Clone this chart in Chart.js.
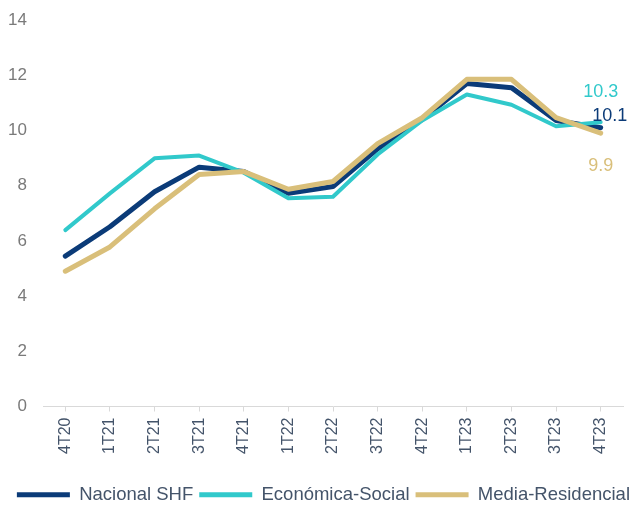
<!DOCTYPE html>
<html lang="es">
<head>
  <meta charset="UTF-8" />
  <title>Índice SHF por segmento</title>
  <script src="https://cdn.jsdelivr.net/npm/chart.js"></script>
  <style>
    * { margin: 0; padding: 0; box-sizing: border-box; }
    body { background: #fff; width: 632px; height: 506px; overflow: hidden; }
    .wrap { position: relative; width: 636px; height: 514px; }
  </style>
</head>
<body>
  <div class="wrap"><canvas id="chart"></canvas></div>

  <script>
    // trimestres
    const quarters = ['4T20', '1T21', '2T21', '3T21', '4T21', '1T22', '2T22', '3T22', '4T22', '1T23', '2T23', '3T23', '4T23'];

    // valores
    const nacional = [5.45, 6.51, 7.78, 8.67, 8.51, 7.72, 7.97, 9.33, 10.4, 11.7, 11.55, 10.36, 10.1];
    const economica = [6.39, 7.72, 8.99, 9.09, 8.47, 7.54, 7.6, 9.13, 10.36, 11.3, 10.93, 10.15, 10.3];
    const media = [4.9, 5.78, 7.16, 8.4, 8.51, 7.87, 8.15, 9.52, 10.46, 11.85, 11.85, 10.46, 9.9];

    const yTicks = [0, 2, 4, 6, 8, 10, 12, 14];

    const FONT = "'Liberation Sans', Arial, sans-serif";

    // etiqueta del último valor de cada serie
    const endLabels = {
      id: 'endLabels',
      afterDatasetsDraw(chart, args, opts) {
        const ctx = chart.ctx;
        ctx.save();
        ctx.font = `${opts.size}px ${FONT}`;
        ctx.textAlign = 'center';
        ctx.textBaseline = 'middle';
        chart.data.datasets.forEach((ds, i) => {
          const meta = chart.getDatasetMeta(i);
          const pt = meta.data[meta.data.length - 1];
          const off = opts.offsets[i];
          ctx.fillStyle = ds.borderColor;
          ctx.fillText(ds.data[ds.data.length - 1].toFixed(1), pt.x + off[0], pt.y + off[1]);
        });
        ctx.restore();
      }
    };

    const line = (label, data, color, width) => ({
      label, data,
      borderColor: color,
      backgroundColor: color,
      borderWidth: width,
      pointRadius: 0,
      tension: 0,
      borderJoinStyle: 'round',
      borderCapStyle: 'round'
    });

    new Chart(document.getElementById('chart'), {
      type: 'line',
      data: {
        labels: quarters,
        datasets: [
          { ...line('Nacional SHF', nacional, '#0b3b78', 5), order: 2 },
          { ...line('Económica-Social', economica, '#31c9cb', 4), order: 1 },
          { ...line('Media-Residencial', media, '#d9bf7a', 5), order: 0 }
        ]
      },
      options: {
        responsive: true,
        maintainAspectRatio: false,
        animation: false,
        layout: { padding: { top: 20, right: 0, left: 0, bottom: 0 } },
        plugins: {
          tooltip: { enabled: false },
          endLabels: { size: 18, offsets: [[9, -12], [0, -30], [0, 33]] },
          legend: {
            position: 'bottom',
            align: 'end',
            labels: {
              font: { family: FONT, size: 18.5 },
              color: '#44546a',
              boxWidth: 53,
              boxHeight: 5,
              padding: 6,
              useBorderRadius: true,
              borderRadius: 2.5,
              generateLabels(chart) {
                return chart.data.datasets.map((ds, i) => ({
                  text: ds.label,
                  fillStyle: ds.borderColor,
                  strokeStyle: ds.borderColor,
                  lineWidth: 0,
                  fontColor: '#44546a',
                  datasetIndex: i,
                  hidden: false
                }));
              }
            }
          }
        },
        scales: {
          x: {
            offset: true,
            afterFit(scale) { scale.paddingLeft = 0; scale.paddingRight = 13; scale.height = 73; },
            grid: { display: true, drawOnChartArea: false, color: '#d9d9d9', tickLength: 5 },
            border: { color: '#d9d9d9', width: 1 },
            ticks: {
              minRotation: 90, maxRotation: 90, padding: 6,
              color: '#44546a',
              font: { family: FONT, size: 16 }
            }
          },
          y: {
            min: 0, max: 14,
            afterBuildTicks(axis) { axis.ticks = yTicks.map(v => ({ value: v })); },
            afterFit(scale) { scale.width = 43; scale.paddingTop = 0; scale.paddingBottom = 0; },
            grid: { display: false, drawTicks: false },
            border: { display: false },
            ticks: {
              padding: 16,
              color: '#7a7a7a',
              font: { family: FONT, size: 17 }
            }
          }
        }
      },
      plugins: [endLabels]
    });
  </script>
</body>
</html>
